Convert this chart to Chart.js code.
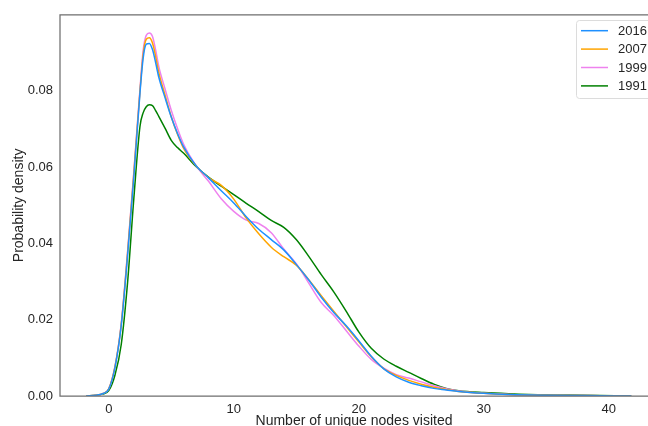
<!DOCTYPE html>
<html>
<head>
<meta charset="utf-8">
<script src="https://cdn.jsdelivr.net/npm/chart.js@4"></script>
<style>
  html, body { margin: 0; padding: 0; background: #fff; }
  #wrap { width: 648px; height: 426px; }
</style>
</head>
<body>
<div id="wrap"><canvas id="kdeChart" width="648" height="426"></canvas></div>
<script>
const nodesVisited = [-1.8, -1, -0.5, 0, 0.5, 1, 1.5, 2,
  2.5, 2.75, 3, 3.25, 3.5, 3.75, 4,
  4.5, 5, 5.5, 6, 7, 8, 9, 10, 11, 12, 13, 14, 15, 16, 17, 18, 19, 20,
  21, 22, 23, 24, 25, 26, 27, 28, 30, 32, 35, 38, 41.8];

const density2016 = [0, 0.0002, 0.0006, 0.0018, 0.0075, 0.0185, 0.0366, 0.0572,
  0.0795, 0.0885, 0.0922, 0.0924, 0.0908, 0.0874, 0.0836,
  0.0782, 0.0731, 0.0688, 0.0652, 0.0603, 0.0571, 0.0538, 0.0506, 0.047, 0.0437, 0.041, 0.0383, 0.0345, 0.0304, 0.0259, 0.0219, 0.0184, 0.0145,
  0.0104, 0.0071, 0.005, 0.0036, 0.0027, 0.002, 0.0016, 0.0012, 0.0007, 0.0004, 0.0002, 0.0001, 0];

const density2007 = [0, 0.0002, 0.0006, 0.0019, 0.0077, 0.0188, 0.0372, 0.058,
  0.08, 0.0895, 0.0935, 0.0939, 0.0925, 0.089, 0.0848,
  0.0789, 0.0732, 0.0686, 0.0648, 0.0603, 0.0572, 0.0552, 0.0516, 0.0466, 0.0425, 0.039, 0.0365, 0.0343, 0.0305, 0.0263, 0.0222, 0.0182, 0.0142,
  0.0103, 0.0072, 0.0054, 0.0041, 0.0031, 0.0023, 0.0017, 0.0012, 0.0007, 0.0004, 0.0002, 0.0001, 0];

const density1999 = [0, 0.0002, 0.0006, 0.0019, 0.0078, 0.019, 0.0376, 0.0585,
  0.0805, 0.0905, 0.0945, 0.0951, 0.0942, 0.0907, 0.0864,
  0.0805, 0.0749, 0.0701, 0.0659, 0.0603, 0.0562, 0.0517, 0.0484, 0.0461, 0.0452, 0.0428, 0.0385, 0.0347, 0.0296, 0.0245, 0.0211, 0.0171, 0.0131,
  0.0096, 0.0073, 0.0056, 0.0047, 0.0037, 0.0027, 0.0019, 0.0013, 0.0007, 0.0004, 0.0002, 0.0001, 0];

const density1991 = [0, 0.0002, 0.0005, 0.0014, 0.0055, 0.0135, 0.0295, 0.0515,
  0.0707, 0.0742, 0.0758, 0.0763, 0.0761, 0.0748, 0.0733,
  0.0702, 0.0670, 0.0651, 0.0636, 0.0601, 0.0573, 0.055, 0.0528, 0.0505, 0.0483, 0.046, 0.0442, 0.041, 0.0366, 0.0318, 0.0273, 0.0222, 0.0168,
  0.0125, 0.0097, 0.0078, 0.0062, 0.0046, 0.0031, 0.002, 0.0014, 0.0009, 0.0006, 0.0003, 0.0002, 0];

const yearLabels = ['2016', '2007', '1999', '1991'];
const yearColors = ['dodgerblue', 'orange', 'violet', 'green'];
const xTicks = [0, 10, 20, 30, 40];
const yTicks = [0, 0.02, 0.04, 0.06, 0.08];

const fontFamily = '"Liberation Sans", Arial, sans-serif';
const textColor = '#262626';
const spineColor = '#6e6e6e';

function toPoints(ys) {
  return nodesVisited.map((x, i) => ({ x: x, y: ys[i] }));
}

const seriesValues = [density2016, density2007, density1999, density1991];

// frame (left, top, bottom spines) + legend box in the upper right
const framePlugin = {
  id: 'frameAndLegend',
  afterDatasetsDraw(chart) {
    const { ctx, chartArea: a } = chart;
    ctx.save();
    ctx.strokeStyle = spineColor;
    ctx.lineWidth = 1.25;
    ctx.beginPath();
    ctx.moveTo(a.right + 1, a.top);
    ctx.lineTo(a.left, a.top);
    ctx.lineTo(a.left, a.bottom);
    ctx.lineTo(a.right + 1, a.bottom);
    ctx.stroke();

    // legend
    const bx = 576, by = 20, bw = 90, bh = 78;
    ctx.fillStyle = 'rgba(255,255,255,0.8)';
    ctx.strokeStyle = '#dcdcdc';
    ctx.lineWidth = 1;
    ctx.beginPath();
    ctx.roundRect(bx + 0.5, by + 0.5, bw, bh, 3);
    ctx.fill();
    ctx.stroke();
    ctx.font = '13px ' + fontFamily;
    ctx.textBaseline = 'middle';
    ctx.textAlign = 'left';
    chart.data.datasets.forEach((ds, i) => {
      const yy = 30.7 + i * 18.4;
      ctx.strokeStyle = ds.borderColor;
      ctx.lineWidth = 1.5;
      ctx.beginPath();
      ctx.moveTo(581, yy);
      ctx.lineTo(608, yy);
      ctx.stroke();
      ctx.fillStyle = textColor;
      ctx.fillText(ds.label, 618, yy + 0.5);
    });
    ctx.restore();
  }
};

new Chart(document.getElementById('kdeChart'), {
  type: 'line',
  data: {
    datasets: yearLabels.map((label, i) => ({
      label: label,
      data: toPoints(seriesValues[i]),
      borderColor: yearColors[i],
      backgroundColor: yearColors[i],
      borderWidth: 1.5,
      pointRadius: 0,
      fill: false,
      cubicInterpolationMode: 'monotone'
    }))
  },
  options: {
    responsive: false,
    animation: false,
    devicePixelRatio: 1,
    layout: { padding: { top: 13, right: 0, left: 0, bottom: 0 } },
    plugins: {
      legend: { display: false },
      tooltip: { enabled: false }
    },
    scales: {
      x: {
        type: 'linear',
        min: -3.9,
        max: 43.14,
        afterBuildTicks: s => { s.ticks = xTicks.map(v => ({ value: v })); },
        afterFit: s => { s.height = 30; },
        grid: { display: false, drawTicks: false },
        border: { display: false },
        ticks: {
          color: textColor,
          font: { family: fontFamily, size: 13 },
          padding: 6,
          maxRotation: 0,
          callback: v => String(v)
        },
        title: {
          display: true,
          text: 'Number of unique nodes visited',
          color: textColor,
          font: { family: fontFamily, size: 14, lineHeight: 1 },
          padding: { top: 0, bottom: -2 }
        }
      },
      y: {
        type: 'linear',
        min: 0,
        max: 0.0999,
        afterBuildTicks: s => { s.ticks = yTicks.map(v => ({ value: v })); },
        afterFit: s => { s.width = 60; },
        grid: { display: false, drawTicks: false },
        border: { display: false },
        ticks: {
          color: textColor,
          font: { family: fontFamily, size: 13 },
          padding: 7,
          callback: v => v.toFixed(2)
        },
        title: {
          display: true,
          text: 'Probability density',
          color: textColor,
          font: { family: fontFamily, size: 14, lineHeight: 1 },
          padding: { top: 12, bottom: 0 }
        }
      }
    }
  },
  plugins: [framePlugin]
});
</script>
</body>
</html>
